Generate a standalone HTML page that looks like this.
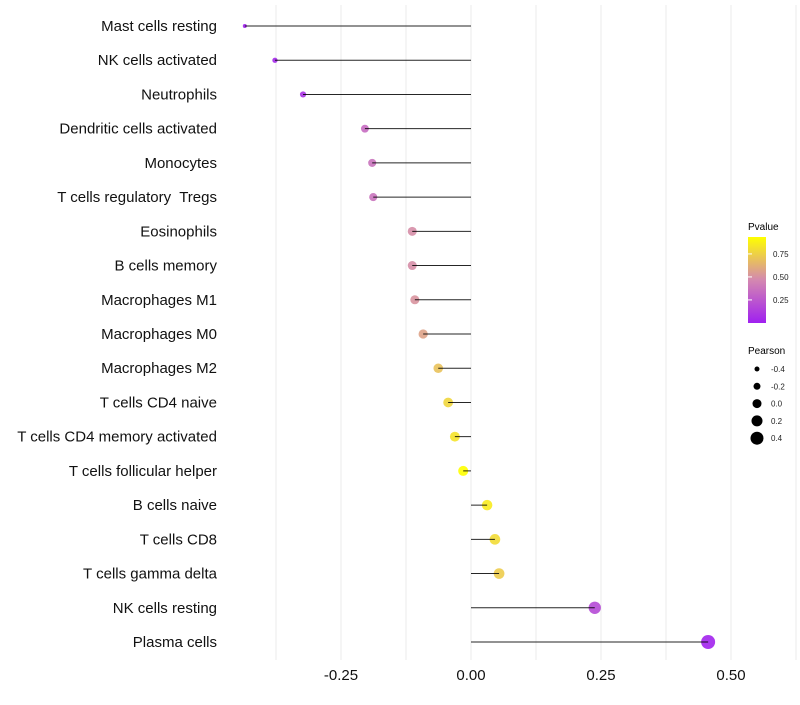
<!DOCTYPE html>
<html><head><meta charset="utf-8"><style>
body{margin:0;background:#fff;}
svg text{font-family:"Liberation Sans",sans-serif;white-space:pre;}
</style></head><body>
<svg id="chart" width="800" height="700">
<defs><linearGradient id="pg" x1="0" y1="1" x2="0" y2="0">
<stop offset="0" stop-color="#a020f0"/><stop offset="0.5" stop-color="#d488b0"/><stop offset="1" stop-color="#ffff00"/>
</linearGradient></defs>
<g id="grid"></g><g id="marks"></g><g id="labels"></g><g id="xticks"></g>
<g id="legend">
<text x="748" y="230" font-size="10">Pvalue</text>
<rect x="748" y="237" width="18" height="86" fill="url(#pg)"/>
<g id="cbticks"></g>
<text x="748" y="354" font-size="10">Pearson</text>
<g id="sizeleg"></g>
</g>
</svg>
<script>
const categories=["Mast cells resting","NK cells activated","Neutrophils","Dendritic cells activated","Monocytes","T cells regulatory  Tregs","Eosinophils","B cells memory","Macrophages M1","Macrophages M0","Macrophages M2","T cells CD4 naive","T cells CD4 memory activated","T cells follicular helper","B cells naive","T cells CD8","T cells gamma delta","NK cells resting","Plasma cells"];
const pearson=[-0.435,-0.377,-0.323,-0.204,-0.190,-0.188,-0.113,-0.113,-0.108,-0.092,-0.063,-0.044,-0.031,-0.015,0.031,0.046,0.054,0.238,0.456];
const pvalue=[0.02,0.05,0.1,0.35,0.38,0.38,0.5,0.5,0.52,0.58,0.7,0.78,0.83,0.94,0.86,0.8,0.74,0.2,0.03];
const xTicks=[-0.25,0,0.25,0.5];
const xTickLabels=["-0.25","0.00","0.25","0.50"];
const cbTicks=[0.25,0.5,0.75];
const sizeLegend=[-0.4,-0.2,0.0,0.2,0.4];
const sizeLegendLabels=["-0.4","-0.2","0.0","0.2","0.4"];
const NS="http://www.w3.org/2000/svg";
const X=v=>471+v*520;
const Y=i=>26+i*(616/(categories.length-1));
const R=v=>Math.sqrt(Math.max(1,26+50.5*v));
const RL=v=>4.5+5*v;
const CBY=p=>322-(p-0.01)*92;
function lerp(a,b,t){return a.map((x,k)=>Math.round(x+(b[k]-x)*t));}
function col(p){const s=[[160,32,240],[212,136,176],[255,255,0]];let t=Math.max(0,Math.min(1,(p-0.01)/0.93));
const c=t<0.5?lerp(s[0],s[1],t*2):lerp(s[1],s[2],(t-0.5)*2);return `rgb(${c})`;}
function mk(tag,attrs,parent){const e=document.createElementNS(NS,tag);for(const k in attrs)e.setAttribute(k,attrs[k]);parent.appendChild(e);return e;}
const grid=document.getElementById('grid');
for(let v=-0.375;v<=0.626;v+=0.125){const g=mk('line',{x1:X(v),x2:X(v),y1:5,y2:660,stroke:'#ebebeb','stroke-width':1},grid);

}
const xt=document.getElementById('xticks');
xTicks.forEach((v,i)=>{const t=mk('text',{x:X(v),y:680,'font-size':15,'text-anchor':'middle',fill:'#111'},xt);t.textContent=xTickLabels[i];

});
const marks=document.getElementById('marks'),labels=document.getElementById('labels');
categories.forEach((c,i)=>{
const y=Y(i);
const pt=mk('circle',{cx:X(pearson[i]),cy:y,r:R(pearson[i]),fill:col(pvalue[i]),'fill-opacity':0.9},marks);


const ln=mk('line',{x1:X(0),x2:X(pearson[i]),y1:y,y2:y,stroke:'#000','stroke-width':1,'stroke-opacity':0.85},marks);


const t=mk('text',{x:217,y:y+5,'font-size':15,'text-anchor':'end',fill:'#111'},labels);t.textContent=c;


});
const cbt=document.getElementById('cbticks');
cbTicks.forEach(p=>{const y=CBY(p);
const l=mk('line',{x1:748,x2:752,y1:y,y2:y,stroke:'#fff'},cbt);


const t=mk('text',{x:773,y:y+3,'font-size':8,fill:'#222'},cbt);t.textContent=p.toFixed(2);

});
const sl=document.getElementById('sizeleg');
sizeLegend.forEach((v,i)=>{const y=369+i*17.3;
const c=mk('circle',{cx:757,cy:y,r:RL(v),fill:'#000'},sl);


const t=mk('text',{x:771,y:y+3,'font-size':8,fill:'#222'},sl);t.textContent=sizeLegendLabels[i];

});
</script>
</body></html>
